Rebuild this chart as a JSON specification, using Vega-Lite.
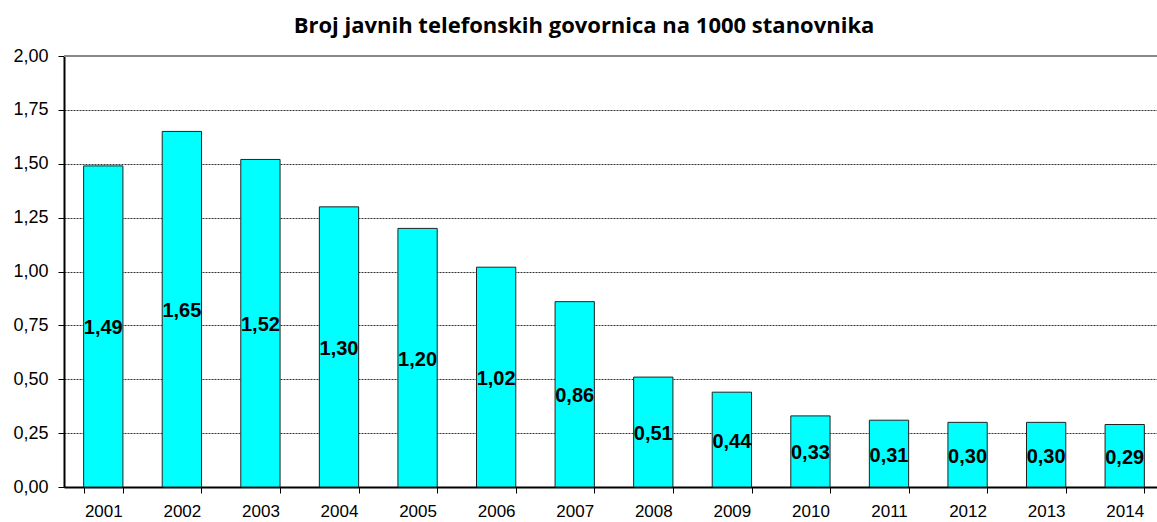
{
  "$schema": "https://vega.github.io/schema/vega-lite/v6.json",
  "width": 1100,
  "height": 431,
  "autosize": {"type": "none"},
  "padding": {"left": 64, "top": 56, "right": 0, "bottom": 35},
  "background": "white",
  "title": {
    "text": "Broj javnih telefonskih govornica na 1000 stanovnika",
    "font": "Open Sans",
    "fontSize": 22,
    "fontWeight": "bold",
    "color": "black",
    "anchor": "middle",
    "dx": -30,
    "offset": 9
  },
  "data": {
    "values": [
      {"year": "2001", "value": 1.49},
      {"year": "2002", "value": 1.65},
      {"year": "2003", "value": 1.52},
      {"year": "2004", "value": 1.30},
      {"year": "2005", "value": 1.20},
      {"year": "2006", "value": 1.02},
      {"year": "2007", "value": 0.86},
      {"year": "2008", "value": 0.51},
      {"year": "2009", "value": 0.44},
      {"year": "2010", "value": 0.33},
      {"year": "2011", "value": 0.31},
      {"year": "2012", "value": 0.30},
      {"year": "2013", "value": 0.30},
      {"year": "2014", "value": 0.29}
    ]
  },
  "encoding": {
    "x": {
      "field": "year",
      "type": "nominal",
      "scale": {"paddingInner": 0.5, "paddingOuter": 0.25},
      "axis": {
        "title": null,
        "labelAngle": 0,
        "labelFont": "Liberation Sans",
        "labelFontSize": 17,
        "labelColor": "black",
        "labelPadding": 10,
        "tickBand": "extent",
        "tickSize": 6,
        "tickColor": "black",
        "tickWidth": 1,
        "domainColor": "black",
        "domainWidth": 2,
        "grid": false
      }
    }
  },
  "layer": [
    {
      "mark": {"type": "bar", "fill": "#00FFFF", "stroke": "#222222", "strokeWidth": 1},
      "encoding": {
        "y": {
          "field": "value",
          "type": "quantitative",
          "scale": {"domain": [0, 2], "nice": false},
          "axis": {
            "title": null,
            "values": [0, 0.25, 0.5, 0.75, 1, 1.25, 1.5, 1.75, 2],
            "format": ".2f",
            "labelFont": "Liberation Sans",
            "labelFontSize": 18,
            "labelColor": "black",
            "labelPadding": 10,
            "tickSize": 6,
            "tickColor": "black",
            "domainColor": "black",
            "domainWidth": 2,
            "grid": true,
            "gridColor": "#333333",
            "gridDash": [2, 1],
            "gridWidth": 1
          }
        }
      }
    },
    {
      "mark": {"type": "rule", "color": "#888888", "strokeWidth": 2},
      "encoding": {"y": {"datum": 2, "type": "quantitative"}, "x": {"value": 0}, "x2": {"value": 1093}}
    },
    {
      "mark": {
        "type": "text",
        "font": "Liberation Sans",
        "fontSize": 20,
        "fontWeight": "bold",
        "color": "black",
        "baseline": "middle",
        "align": "center",
        "dy": 2
      },
      "encoding": {
        "y": {
          "field": "value",
          "type": "quantitative",
          "scale": {"domain": [0, 4], "nice": false},
          "axis": null
        },
        "text": {"field": "value", "type": "quantitative", "format": ".2f"}
      }
    }
  ],
  "resolve": {"scale": {"y": "independent"}},
  "config": {
    "locale": {
      "number": {"decimal": ",", "thousands": ".", "grouping": [3], "currency": ["", " €"]}
    },
    "view": {"stroke": null}
  }
}
